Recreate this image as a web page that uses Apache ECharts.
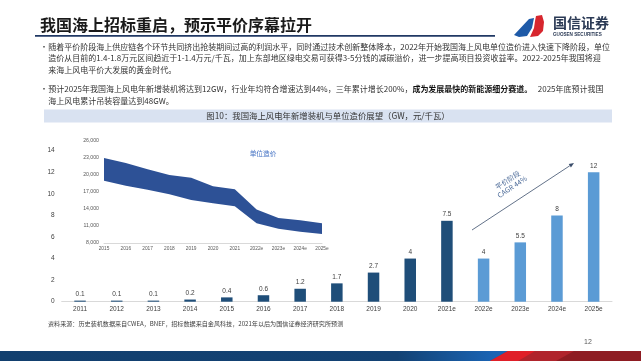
<!DOCTYPE html>
<html><head><meta charset="utf-8">
<script src="https://cdn.jsdelivr.net/npm/echarts@6/dist/echarts.min.js"></script>
<style>html,body{margin:0;padding:0;background:#fff}#c{width:641px;height:361px}</style>
</head><body><div id="c"></div>
<script>
// ---- data ----
const years = ['2011','2012','2013','2014','2015','2016','2017','2018','2019','2020','2021e','2022e','2023e','2024e','2025e'];
const newCapacityGW = [0.1,0.1,0.1,0.2,0.4,0.6,1.2,1.7,2.7,4,7.5,4,5.5,8,12];
const forecastFromIndex = 11;
const costYears = ['2015','2016','2017','2018','2019','2020','2021','2022e','2023e','2024e','2025e'];
const costUpper = [23000,22100,21000,20000,19500,18000,17500,13900,12400,12000,11500];
const costLower = [19000,18100,17400,16600,15600,15000,14500,11500,10500,10000,9600];
const mainTicks = {min:0, max:14, interval:2};
const insetTicks = {min:8000, max:26000, interval:3000};

const DARK = '#1F4E79', LIGHT = '#5B9BD5', BAND = '#2D5196';
const CJK = '"Noto Sans CJK SC", "Noto Sans", sans-serif';
const LAT = '"Liberation Sans", Arial, sans-serif';

const costRange = costUpper.map((u,i)=>u-costLower[i]);

const chart = echarts.init(document.getElementById('c'), null, {renderer:'canvas'});

// arrow geometry
const a0=[472,230], a1=[574,163];
const dx=a1[0]-a0[0], dy=a1[1]-a0[1], L=Math.hypot(dx,dy), ux=dx/L, uy=dy/L;
const hb=[a1[0]-5*ux, a1[1]-5*uy];
const head=[[a1[0],a1[1]],[hb[0]-2*uy, hb[1]+2*ux],[hb[0]+2*uy, hb[1]-2*ux]];

const bullet1 = [
 '随着平价阶段海上供应链各个环节共同挤出抢装期间过高的利润水平，同时通过技术创新整体降本，2022年开始我国海上风电单位造价进入快速下降阶段，单位',
 '造价从目前的1.4-1.8万元区间趋近于1-1.4万元/千瓦，加上东部地区绿电交易可获得3-5分钱的减碳溢价，进一步提高项目投资收益率。2022-2025年我国将迎',
 '来海上风电平价大发展的黄金时代。'
];
const bullet2a = '预计2025年我国海上风电年新增装机将达到12GW，行业年均符合增速达到44%，三年累计增长200%，';
const bullet2b = '成为发展最快的新能源细分赛道。';
const bullet2c = '   2025年底预计我国';
const bullet2d = '海上风电累计吊装容量达到48GW。';

const graphics = [
  // title
  {type:'text', x:40, y:25, style:{text:'我国海上招标重启，预示平价序幕拉开', font:'bold 16px '+CJK, fill:'#1a1a1a', verticalAlign:'middle'}},
  {type:'rect', shape:{x:35, y:35, width:460, height:1.8}, style:{fill:'#203864'}},
  // logo
  {type:'polygon', shape:{points:[[514,35],[529,19],[534,18],[532,28],[527,36],[519,37]]}, style:{fill:'#1E5AA8'}},
  {type:'polygon', shape:{points:[[536,16],[542,15],[544,22],[543,31],[538,36],[530,37],[534,28],[535,21]]}, style:{fill:'#D7262E'}},
  {type:'text', x:553, y:23, style:{text:'国信证券', font:'bold 14px '+CJK, fill:'#2B3A55', verticalAlign:'middle'}},
  {type:'text', x:553, y:34.5, style:{text:'GUOSEN SECURITIES', font:'bold 4.6px '+LAT, fill:'#2B3A55', verticalAlign:'middle'}},
  // bullets
  {type:'text', x:40, y:46.7, style:{text:'•', font:'8px '+CJK, fill:'#333', verticalAlign:'middle'}},
  {type:'text', x:40, y:89.3, style:{text:'•', font:'8px '+CJK, fill:'#333', verticalAlign:'middle'}},
  {type:'text', x:48.3, y:46.7, style:{text:bullet1[0], font:'8px '+CJK, fill:'#333', verticalAlign:'middle'}},
  {type:'text', x:48.3, y:58.4, style:{text:bullet1[1], font:'8px '+CJK, fill:'#333', verticalAlign:'middle'}},
  {type:'text', x:48.3, y:70.1, style:{text:bullet1[2], font:'8px '+CJK, fill:'#333', verticalAlign:'middle'}},
  {type:'text', x:48.3, y:89.3, style:{text:'{n|'+bullet2a+'}{b|'+bullet2b+'}{n|'+bullet2c+'}', verticalAlign:'middle',
     rich:{n:{font:'8px '+CJK, fill:'#333'}, b:{font:'bold 8px '+CJK, fill:'#111'}}}},
  {type:'text', x:48.3, y:101, style:{text:bullet2d, font:'8px '+CJK, fill:'#333', verticalAlign:'middle'}},
  // caption
  {type:'rect', shape:{x:44, y:109.5, width:568, height:13}, style:{fill:'#D9E2F1'}},
  {type:'text', x:328, y:116, style:{text:'图10：我国海上风电年新增装机与单位造价展望（GW，元/千瓦）', font:'8.4px '+CJK, fill:'#333', align:'center', verticalAlign:'middle'}},
  // inset label
  {type:'text', x:263, y:153, z:10, style:{text:'单位造价', font:'6.7px '+CJK, fill:'#4472C4', align:'center', verticalAlign:'middle'}},
  // arrow annotation
  {type:'line', shape:{x1:a0[0], y1:a0[1], x2:hb[0], y2:hb[1]}, style:{stroke:'#3B4E6B', lineWidth:0.8}},
  {type:'polygon', shape:{points:head}, style:{fill:'#3B4E6B'}},
  {type:'text', x:510, y:183.5, rotation:Math.atan2(-dy,dx), style:{text:'平价阶段\nCAGR 44%', font:'7px '+CJK, fill:'#4F6D9A', align:'center', verticalAlign:'middle', lineHeight:8}},
  // source
  {type:'text', x:48, y:324, style:{text:'资料来源：历史装机数据来自CWEA，BNEF，招标数据来自金风科技，2021年以后为国信证券经济研究所预测', font:'6.1px '+CJK, fill:'#404040', verticalAlign:'middle'}},
  {type:'text', x:588, y:342, style:{text:'12', font:'7px '+LAT, fill:'#595959', align:'center', verticalAlign:'middle'}},
  // footer band
  {type:'rect', shape:{x:0, y:351, width:641, height:10}, style:{fill:new echarts.graphic.LinearGradient(0,0,1,0,[{offset:0,color:'#123F6E'},{offset:0.62,color:'#134274'},{offset:0.77,color:'#1A64B4'},{offset:1,color:'#1A64B4'}])}},
  {type:'polygon', shape:{points:[[490,361],[508,351],[641,351],[641,361]]}, style:{fill:'#B0242C'}},
  {type:'polygon', shape:{points:[[490,361],[508,351],[535,351],[518,361]]}, style:{fill:'#E01F28'}},
  {type:'polygon', shape:{points:[[556,361],[574,351],[641,351],[641,361]]}, style:{fill:'#8E1C22'}}
];

chart.setOption({
  animation:false,
  backgroundColor:'#fff',
  grid:[
    {left:61.7, right:29, top:150.7, bottom:59.3},
    {left:104, right:319, top:141, bottom:118}
  ],
  xAxis:[
    {type:'category', gridIndex:0, data:years, axisLine:{lineStyle:{color:'#D9D9D9'}}, axisTick:{show:false},
     axisLabel:{fontSize:6.5, fontFamily:LAT, color:'#404040', margin:4.5, interval:0}},
    {type:'category', gridIndex:1, data:costYears, boundaryGap:false, axisLine:{lineStyle:{color:'#D9D9D9'}}, axisTick:{show:false},
     axisLabel:{fontSize:4.8, fontFamily:LAT, color:'#595959', margin:3.5, interval:0}}
  ],
  yAxis:[
    {type:'value', gridIndex:0, min:mainTicks.min, max:mainTicks.max, interval:mainTicks.interval,
     axisLine:{show:false}, axisTick:{show:false}, splitLine:{show:false},
     axisLabel:{fontSize:6.5, fontFamily:LAT, color:'#404040', margin:7}},
    {type:'value', gridIndex:1, min:insetTicks.min, max:insetTicks.max, interval:insetTicks.interval,
     axisLine:{show:false}, axisTick:{show:false}, splitLine:{show:false},
     axisLabel:{fontSize:5.2, fontFamily:LAT, color:'#595959', margin:5, formatter:v=>v.toLocaleString('en-US')}}
  ],
  series:[
    {type:'bar', xAxisIndex:0, yAxisIndex:0, barWidth:11.5,
     data:newCapacityGW.map((v,i)=>({value:v, itemStyle:{color: i>=forecastFromIndex?LIGHT:DARK}})),
     label:{show:true, position:'top', distance:3, fontSize:6.5, fontFamily:LAT, color:'#404040'}},
    {type:'line', xAxisIndex:1, yAxisIndex:1, stack:'cost', data:costLower, symbol:'none',
     lineStyle:{width:0, opacity:0}, z:5},
    {type:'line', xAxisIndex:1, yAxisIndex:1, stack:'cost', data:costRange, symbol:'none',
     lineStyle:{width:0, opacity:0}, areaStyle:{color:BAND, opacity:1}, z:5}
  ],
  graphic:graphics
});
</script></body></html>
